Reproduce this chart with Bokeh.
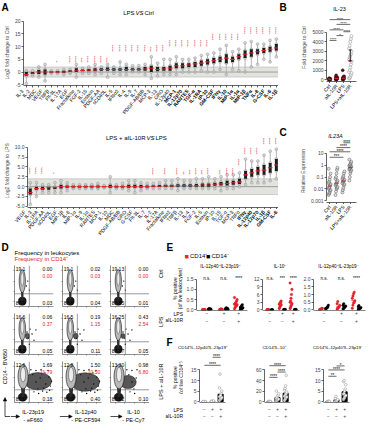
import math
import numpy as np
from bokeh.plotting import figure
from bokeh.models import (Range1d, FixedTicker, Label, BoxAnnotation, Span, Arrow,
                          NormalHead, PrintfTickFormatter, LinearAxis)
from bokeh.layouts import row, column
from bokeh.embed import file_html
from bokeh.resources import INLINE
from bokeh.core.properties import value

FONT = "Liberation Sans"
RED = "#e1232b"

# ======================= DATA =======================
# ---- Panel A (top): LPS vs Ctrl, log2 fold change
a1_names = ["IL-3", "IL-2", "MDC", "VEGF", "TNFβ", "Flt-3L", "IL-17A", "EGF", "Fractalkine", "FGF-2",
            "IL-15", "Eotaxin", "PDGF-AA", "sCD40L", "IL-5", "IFNα2", "IL-4", "IL-9", "IL-7", "PDGF-AB/BB",
            "MCP-3", "IL-13", "GRO", "IL-12p40", "MCP-1", "IL-12p70", "RANTES", "TGF-α", "IL-1RA", "IP-10",
            "GM-CSF", "IFNγ", "IL-10", "MIP-1α", "IL-1α", "MIP-1β", "TNFα", "IL-8", "G-CSF", "IL-6", "IL-1β"]
a1_bold = [0] * 24 + [1] * 17
a1_lo = [-4.5, -1.5, -2, -3.5, -0.5, -0.5, -1, -0.5, -2, -0.5, -0.5, -1, -0.5, -2, -0.5, -1, -1, 0, 0, -1,
         -2.5, -1.5, -1, -1, -1, 0, 0, 0, 0.5, 0, 0, 1, -1, 1, 0.5, 0, 2, 3, 5, 4, 6]
a1_q1 = [-1.5, -0.8, -0.8, -1, -0.2, -0.2, -0.3, 0, 0, 0.3, 0.3, 0.3, 0.5, 0.5, 0.5, 0.5, 0.5, 0.6, 0.6, 0.5,
         0, 0.3, 0.5, 0.5, 1.5, 1.5, 2, 2, 2.5, 3, 3.5, 4, 3.5, 4, 5, 5.5, 6, 7, 7.5, 8, 8.5]
a1_med = [-1, -0.5, 0, 0, 0, 0, 0, 0.3, 0.5, 0.6, 0.8, 0.8, 1, 1, 1, 1, 1, 1, 1, 1.2,
          1.5, 1, 1.2, 1.5, 2.5, 2.5, 2.8, 3.2, 3.5, 4, 4.5, 5, 5.5, 5, 6, 7, 7.5, 8, 8.5, 9, 9.5]
a1_q3 = [0, 0, 0.8, 1, 0.2, 0.3, 0.5, 0.7, 1.5, 1, 1.2, 1.5, 1.5, 1.8, 1.5, 1.5, 2, 1.5, 1.5, 2,
         2.5, 2, 2, 2.5, 3.5, 3.5, 3.5, 4, 4.5, 5, 5.5, 6, 7, 6, 7, 8.5, 9, 9, 9.5, 10, 11]
a1_hi = [0.5, 0.5, 2, 3, 0.5, 0.5, 1, 1, 3, 1.5, 2, 3, 2, 3, 2, 4, 3, 2.5, 2.5, 3,
         6, 3.5, 5, 5, 6, 5, 5, 5.5, 6.5, 7, 7.5, 9, 10.5, 8, 9, 11.5, 12, 11, 11, 12.5, 13]
a1_sig = ([""] * 5 + ["*", ""] + ["****"] * 2 + ["***"] + ["****"] * 3 + ["***"] + ["****"] * 6
          + ["***"] + ["****"] * 20)
a1_sig_y = ([0] * 5 + [3.8, 0] + [3.7] * 7 + [8] * 9 + [10] * 7 + [12.5] * 5 + [15] * 6)

# ---- Panel A (bottom): LPS + aIL-10R vs LPS
a2_names = ["VEGF", "IL-3", "IL-1RA", "PDGF-AA", "sCD40L", "EGF", "MIP-1β", "IL-8", "MIP-1α", "IL-9",
            "IL-1α", "RANTES", "MCP-1", "IL-10", "MDC", "PDGF-AB/BB", "GRO", "G-CSF", "Flt-3L", "IL-7",
            "IL-2", "IL-17A", "Fractalkine", "IFNα2", "TNFβ", "IL-13", "IL-4", "FGF-2", "IL-5", "Eotaxin",
            "IP-10", "IL-15", "TGF-α", "MCP-3", "TNFα", "IFNγ", "IL-12p40", "IL-12p70", "IL-1β", "GM-CSF", "IL-6"]
a2_bold = [0] * 35 + [1] * 6
a2_lo = [-4.5, -2.5, -1.5, -1.5, -1.5, -1.5, -1, -0.5, -0.5, -0.5, -0.5, -0.5, -0.3, -1.5, -0.5, -0.5, -1, -1.5, -1, -0.5,
         -0.5, -0.5, -0.5, -0.5, -1, -0.5, -0.5, -0.5, -0.5, -0.5, -0.5, -1, -0.5, -0.5, 0, 0.5, 1, 1, 1, 1.5, 2]
a2_q1 = [-2, -0.8, -0.8, -0.8, -0.6, -0.5, -0.3, -0.2, -0.2, -0.2, -0.2, -0.2, -0.1, -0.3, -0.2, -0.2, -0.3, -0.3, -0.3, -0.2,
         -0.1, -0.1, 0, 0, 0, 0, 0, 0, 0, 0, 0.2, 0.3, 0.3, 0.5, 0.7, 2, 2.5, 3, 3, 3.5, 4]
a2_med = [-1.5, -0.5, -0.5, -0.3, -0.3, 0, 0, 0, 0, 0, 0, 0, 0, 0, 0, 0, 0, 0, 0, 0,
          0.1, 0.1, 0.2, 0.2, 0.3, 0.3, 0.3, 0.3, 0.4, 0.4, 0.6, 0.7, 0.8, 1, 1.2, 3, 3.5, 4, 4.2, 4.8, 5.5]
a2_q3 = [-0.5, 0, 0, 0, 0, 0.5, 0.3, 0.2, 0.2, 0.2, 0.2, 0.3, 0.1, 0.5, 0.2, 0.2, 0.5, 0.5, 0.4, 0.3,
         0.3, 0.4, 0.5, 0.5, 0.6, 0.6, 0.6, 0.7, 0.8, 0.8, 1, 1.2, 1.5, 1.5, 2, 4, 4.5, 5, 5.5, 6, 7]
a2_hi = [1, 1, 0.5, 0.5, 1, 1.5, 1, 0.5, 0.5, 0.5, 0.5, 0.8, 0.3, 2.5, 0.5, 0.8, 1.5, 1.5, 1, 0.8,
         0.8, 1, 1.5, 1.5, 2, 1.5, 1.5, 2, 2, 2.5, 2, 2.5, 3, 3, 3.5, 7, 6.5, 6.5, 8, 9, 9.5]
a2_sig = (["****", "****", "****", "", "*"] + [""] * 15
          + ["****", "", "****", "", "****", "**", "***", "****", "***", "****", "", "***", "****", "****",
             "****", "****", "****", "****", "****", "****", "****"])
a2_sig_y = [3.2, 3.2, 3.2, 0, 3.2] + [0] * 15 + [3.0] * 14 + [5.3] + [8.2] * 3 + [10.7] * 3

# ---- Panel B: IL-23 protein, fold change to Ctrl
b_groups = ["Ctrl", "aIL-10R", "LPS", "LPS+aIL-10R"]
b_ctrl = [0, 5, 10, 15, 20, 30, 40, 60, 80, 100, 120, 150]
b_ail = [10, 20, 40, 60, 80, 100, 130, 160, 200, 250, 300, 450]
b_lps = [20, 40, 60, 90, 120, 150, 200, 250, 300, 350, 1000]
b_lpsail = [100, 200, 300, 500, 700, 800, 1000, 1300, 1600, 1900, 2100, 2300, 2500, 2700,
            3000, 3300, 3600, 4000, 4300, 4600]
b_err = [1960, 3140]
b_sig = [(0, 3, 6350, "****"), (1, 3, 5850, "****"), (0, 2, 5270, "****"), (2, 3, 5070, "****"),
         (1, 2, 4660, "*"), (0, 1, 4150, "****")]

# ---- Panel C: IL23A relative expression
c_ctrl = [0.003, 0.004, 0.005, 0.007, 0.008, 0.01, 0.012, 0.015, 0.02, 0.025, 0.03, 0.04, 0.06, 0.1, 0.2, 0.5]
c_ail = [0.003, 0.006, 0.01, 0.012, 0.015, 0.02, 0.025, 0.03, 0.04, 0.05, 0.07, 0.1, 0.2, 0.4, 0.6]
c_lps = [0.005, 0.008, 0.012, 0.02, 0.025, 0.03, 0.04, 0.045, 0.05, 0.06, 0.07, 0.09, 0.12, 0.2, 0.3]
c_lpsail = [0.05, 0.1, 0.2, 0.3, 0.4, 0.45, 0.5, 0.6, 0.7, 0.8, 0.9, 1.0, 1.2, 1.5, 2, 3]
c_sig = [(0, 2, 4.7, "***"), (0, 3, 13.7, "****"), (1, 3, 31, "****"), (2, 3, 79, "****")]

# ---- Panel D: flow cytometry quadrant frequencies
d_rows = ["Ctrl", "LPS", "LPS + aIL-10R"]
d_cols = [("IL-23p19", "- eF660"), ("IL-12p40", "- PE-CF594"), ("IL-10", "- PE-Cy7")]
d_tl = [["19.1", "19.1", "19.13"], ["16.6", "16.5", "16.25"], ["12.6", "12.8", "13.30"]]
d_tr = [["0.00", "0.02", "0.00"], ["0.06", "0.19", "0.43"], ["1.69", "1.50", "0.98"]]
d_tr_cd14 = [["0.00", "0.03", "0.00"], ["0.37", "1.15", "2.54"], ["11.79", "10.50", "6.80"]]
d_bl = [["80.9", "80.8", "80.85"], ["83.3", "83.2", "83.27"], ["85.6", "85.3", "85.62"]]
d_br = [["0.03", "0.04", "0.01"], ["0.05", "0.11", "0.05"], ["0.18", "0.40", "0.10"]]
d_gate = [0.38, 0.31]
d_pos_x = [0.2, 0.2, 0.22]
d_pos_y = [0.62, 0.62, 0.63]
d_pos_w = [0.16, 0.17, 0.26]
d_pos_h = [0.56, 0.56, 0.6]
d_neg_x = [0.2, 0.2, 0.21]
d_neg_y = [0.13, 0.13, 0.13]
d_neg_w = [0.2, 0.2, 0.23]
d_neg_h = [0.2, 0.2, 0.2]
d_cloud_x = [[0, 0, 0], [0.33, 0.34, 0.32], [0.6, 0.58, 0.45]]
d_cloud_y = [[0, 0, 0], [0.45, 0.45, 0.45], [0.52, 0.5, 0.5]]
d_cloud_w = [[0, 0, 0], [0.1, 0.12, 0.1], [0.7, 0.74, 0.42]]
d_cloud_h = [[0, 0, 0], [0.14, 0.14, 0.12], [0.42, 0.45, 0.32]]
d_dot_x = [[0.3, 0.34, 0.38],
           [0.32, 0.36, 0.4, 0.45, 0.5, 0.38, 0.55],
           [0.42, 0.5, 0.55, 0.62, 0.68, 0.72, 0.78, 0.83, 0.88, 0.92, 0.95, 0.47, 0.6, 0.75, 0.86, 0.66, 0.9, 0.55, 0.8, 0.7]]
d_dot_y = [[0.5, 0.62, 0.4],
           [0.55, 0.4, 0.62, 0.5, 0.35, 0.25, 0.6],
           [0.8, 0.26, 0.78, 0.22, 0.8, 0.28, 0.72, 0.25, 0.62, 0.4, 0.52, 0.68, 0.33, 0.35, 0.78, 0.6, 0.3, 0.5, 0.45, 0.7]]

# ---- Panel E: % positive of live leukocytes (CD14+ red, CD14- black; Ctrl, LPS, LPS+aIL-10R)
e_titles = ["IL-12p40⁺IL-23p19⁺", "IL-10⁺", "IL-12p40⁺IL-23p19⁻"]
e1_vals = [[0, 0, 0, 0.01, 0.01, 0.02, 0, 0.01], [0.01, 0.02, 0.03, 0.05, 0.02, 0.04, 0.06, 0.01],
           [0, 0.01, 0.02, 0.01, 0.03, 0, 0.02, 0.05], [0.02, 0.04, 0.06, 0.08, 0.03, 0.05, 0.1, 0.02],
           [0.05, 0.12, 0.18, 0.2, 0.25, 0.28, 0.3, 0.35, 0.42, 0.5, 0.6], [0.02, 0.05, 0.06, 0.08, 0.1, 0.12, 0.15, 0.2, 0.25]]
e2_vals = [[0, 0, 0.05, 0.1, 0.02, 0], [0, 0.02, 0.05, 0],
           [0.5, 1, 1.5, 1.8, 2, 2.2, 2.5, 2.8, 3, 3.5], [0, 0.1, 0.2, 0.05, 0.1],
           [0.5, 1, 1.5, 2, 2.5, 3, 3.5, 4.5, 6, 8, 10.5], [0, 0.1, 0.2, 0.05, 0.15]]
e3_vals = [[0, 0.02, 0.05, 0.08, 0.1, 0.03], [0.05, 0.1, 0.15, 0.2, 0.3, 0.1],
           [0.05, 0.1, 0.15, 0.2, 0.3, 0.4, 0.55], [0.05, 0.1, 0.15, 0.2, 0.25, 0.3, 0.4],
           [0.1, 0.3, 0.45, 0.5, 0.6, 0.75, 0.9, 1.05, 1.15], [0.02, 0.05, 0.1, 0.1, 0.15, 0.2, 0.28]]
e_sig = [["n.s.", "n.s.", "****"], ["n.s.", "***", "****"], ["n.s.", "n.s.", "****"]]
e_ticks = [[0, 0.5, 1.0, 1.5], [0, 3, 6, 9, 12], [0, 0.5, 1.0, 1.5, 2.0]]
lps_signs = ["−", "+", "+"]
ail_signs = ["−", "−", "+"]

# ---- Panel F: % positive of live CD14+ (Ctrl, LPS, LPS+aIL-10R)
f_titles = ["CD14⁺IL-12p40⁺IL-23p19⁺", "CD14⁺IL-10⁺", "CD14⁺IL-12p40⁺IL-23p19⁻"]
f1_vals = [[0, 0, 0, 0, 0, 0], [0, 0.1, 0.2, 0, 0.3, 0.1], [0.5, 1, 1.2, 1.5, 2, 2.2, 2.5, 3, 4, 5, 6.5, 13]]
f2_vals = [[0, 0.2, 0.5, 0, 0.3], [1, 2, 3, 4, 5, 6, 8, 10, 12, 15, 20],
           [2, 4, 6, 8, 9, 10, 12, 14, 15, 18, 22, 25, 30, 50]]
f3_vals = [[0, 0, 0.1, 0.2, 0], [0, 0.2, 0.3, 0.5, 1, 1.5, 2.5], [1, 1.5, 2, 2.5, 3, 3.5, 4, 5, 6, 8, 9.5, 10]]
f_sig = [[(0, 2, 17.2, "****"), (1, 2, 21, "****")],
         [(0, 1, 46, "****"), (1, 2, 56, "****"), (0, 2, 68, "****")],
         [(0, 1, 12, "**"), (0, 2, 15, "****"), (1, 2, 16.9, "*")]]
f_ticks = [[0, 5, 10, 15], [0, 20, 40, 60], [0, 5, 10, 15]]


# ======================= HELPERS =======================
def fig(w, h, l, r, t, b, xr, yr, ytype="linear", axes=True):
    kw = {} if axes else dict(x_axis_location=None, y_axis_location=None)
    p = figure(width=w, height=h, x_range=Range1d(*xr), y_range=Range1d(*yr), y_axis_type=ytype,
               output_backend="svg", toolbar_location=None, title=None,
               min_border_left=l, min_border_right=r, min_border_top=t, min_border_bottom=b, **kw)
    if "frame_align" in p.properties():
        p.frame_align = False
    p.outline_line_color = None
    p.grid.visible = False
    p.border_fill_color = "white"
    p.background_fill_color = "white"
    return p


def tfig(w, h):
    return fig(w, h, 0, 0, 0, 0, (0, 1), (0, 1), axes=False)


def style_axis(ax, fs="5px", tick=2):
    ax.major_label_text_font = FONT
    ax.major_label_text_font_size = fs
    ax.axis_label_text_font = FONT
    ax.axis_label_text_font_size = fs
    ax.axis_label_text_font_style = "normal"
    ax.major_tick_in = 0
    ax.major_tick_out = tick
    ax.minor_tick_line_color = None
    ax.axis_line_width = 0.7
    ax.major_tick_line_width = 0.7
    ax.axis_line_color = "#222222"
    ax.major_tick_line_color = "#222222"
    ax.major_label_standoff = 1
    ax.axis_label_standoff = 2


def hide_labels(ax):
    ax.major_label_text_font_size = "1px"
    ax.major_label_text_color = None
    ax.major_label_standoff = 0


def lab(p, x, y, text, size="5px", color="black", align="left", base="middle",
        angle=0.0, style="normal", xdata=False, ydata=False, yoff=0):
    fl = p.min_border_left
    fy = p.height - p.min_border_bottom
    p.add_layout(Label(x=x if xdata else x - fl, y=y if ydata else fy - y,
                       x_units="data" if xdata else "screen", y_units="data" if ydata else "screen",
                       y_offset=yoff, text=text, text_font=FONT, text_font_size=size, text_color=color,
                       text_align=align, text_baseline=base, angle=angle, text_font_style=style))


def arrow(p, x0, y0, x1, y1, head=True):
    fy = p.height
    end = NormalHead(size=3.5, line_color="black", line_width=0.5, fill_color="black") if head else None
    p.add_layout(Arrow(end=end, x_start=x0, y_start=fy - y0, x_end=x1, y_end=fy - y1,
                       start_units="screen", end_units="screen", line_color="black", line_width=0.7))


def jitter(n, step):
    return [((k % 5) - 2) * step for k in range(n)]


def sig_marks(p, xs, sig, size="4.5px"):
    p.segment(x0=[xs[s[0]] for s in sig], y0=[s[2] for s in sig],
              x1=[xs[s[1]] for s in sig], y1=[s[2] for s in sig], line_color="black", line_width=0.6)
    for i, j, lv, t in sig:
        lab(p, (xs[i] + xs[j]) / 2, lv, t, size=size, align="center", base="middle",
            xdata=True, ydata=True, yoff=0.6)


def letter(p, x, y, t):
    lab(p, x, y, t, size="10px", style="bold")


def title3(p, cx, y, left, right):
    lab(p, cx - 5, y, left, size="6px", align="right")
    lab(p, cx, y, "VS", size="6px", align="center", style="italic")
    lab(p, cx + 5, y, right, size="6px", align="left")


def names_fig(w, h, l, r, xr, xs, names, bold=None, size="5px"):
    # text strip under a plot; its x scale matches the plot frame above it
    u = (xr[1] - xr[0]) / (w - l - r)
    p = fig(w, h, 0, 0, 0, 0, (xr[0] - l * u, xr[1] + r * u), (h, 0), axes=False)
    bold = bold if bold is not None else [0] * len(names)
    for flag, style in ((0, "normal"), (1, "bold")):
        sel = [k for k in range(len(names)) if bold[k] == flag]
        if sel:
            p.text(x=[xs[k] for k in sel], y=[1.5] * len(sel), text=[names[k] for k in sel],
                   angle=0.87, text_align="right", text_baseline="middle", text_font=value(FONT),
                   text_font_size=value(size), text_font_style=style, text_color="black")
    return p


def tick_axis(ax, xs):
    style_axis(ax)
    ax.ticker = FixedTicker(ticks=xs)
    hide_labels(ax)


def sign_axes(p, xs, s1, s2):
    xa = p.xaxis[0]
    style_axis(xa, tick=0)
    xa.ticker = FixedTicker(ticks=xs)
    xa.major_label_overrides = {x: s for x, s in zip(xs, lps_signs)}
    xa.major_tick_line_color = None
    xa.major_label_standoff = s1
    xa.axis_line_color = "#555555"
    ax2 = LinearAxis(ticker=FixedTicker(ticks=xs), major_label_overrides={x: s for x, s in zip(xs, ail_signs)})
    style_axis(ax2, tick=0)
    ax2.axis_line_color = None
    ax2.major_tick_line_color = None
    ax2.major_label_standoff = s2
    p.add_layout(ax2, "below")


# ======================= PANEL A =======================
def build_a(w, h, l, r, t, b, xr, yr, lo, q1, med, q3, hi, sig, sig_y, yticks, yfmt, ylab):
    n = len(lo)
    xs = list(range(1, n + 1))
    p = fig(w, h, l, r, t, b, xr, yr)
    p.add_layout(BoxAnnotation(bottom=-2, top=2, fill_color="#cacac2", fill_alpha=0.55,
                               line_color="#5a5a5a", line_width=0.8, level="underlay"))
    p.add_layout(Span(location=0, dimension="width", line_color="#808080", line_width=0.7, level="underlay"))
    p.segment(x0=xs, y0=lo, x1=xs, y1=hi, line_color="#b4b4b4", line_width=1.0)
    p.scatter(x=xs * 4, y=lo + q1 + q3 + hi, size=2.8, marker="circle", fill_color="#cfcfcf",
              fill_alpha=0.7, line_color="#8f8f8f", line_width=0.5)
    p.segment(x0=xs, y0=q1, x1=xs, y1=q3, line_color="#1c1c1c", line_width=3.0)
    p.segment(x0=[x - 0.38 for x in xs], y0=med, x1=[x + 0.38 for x in xs], y1=med,
              line_color=RED, line_width=1.1)
    keep = [k for k in range(n) if sig[k]]
    p.text(x=[xs[k] for k in keep], y=[sig_y[k] for k in keep], text=[sig[k] for k in keep],
           angle=math.pi / 2, text_color=RED, text_font=value(FONT), text_font_size=value("4.4px"),
           text_align="left", text_baseline="middle")
    tick_axis(p.xaxis[0], xs)
    ya = p.yaxis[0]
    style_axis(ya)
    ya.ticker = FixedTicker(ticks=yticks)
    ya.formatter = PrintfTickFormatter(format=yfmt)
    ya.bounds = (yticks[0], yticks[-1])
    ya.axis_label = ylab
    return p, xs


A_XR = (0.55, 41.35)
A1top = tfig(278, 17)
letter(A1top, 1, 6.5, "A")
title3(A1top, 139, 12.5, "LPS", "Ctrl")
A1, a1_x = build_a(278, 71, 19, 0, 3, 3, A_XR, (-5.3, 20.3), a1_lo, a1_q1, a1_med, a1_q3, a1_hi,
                   a1_sig, a1_sig_y, [-5, 0, 5, 10, 15, 20], "%d", "Log2 fold change to Ctrl")
A1n = names_fig(278, 37, 19, 0, A_XR, a1_x, a1_names, a1_bold)
A2, a2_x = build_a(278, 84, 21, 0, 8, 2, A_XR, (-5.3, 13.5), a2_lo, a2_q1, a2_med, a2_q3, a2_hi,
                   a2_sig, a2_sig_y, [-5, -2.5, 0, 2.5, 5, 7.5, 10], "%.1f", "Log2 fold change to LPS")
title3(A2, 144, 12.8, "LPS + aIL-10R", "LPS")
A2n = names_fig(278, 32, 21, 0, A_XR, a2_x, a2_names, a2_bold)

# ======================= PANEL B =======================
BC_XR = (-0.45, 3.9)
g_x = [0, 1, 2, 3]
Btop = tfig(89, 13)
letter(Btop, 1, 6.5, "B")
lab(Btop, 61, 8.5, "IL-23", size="5.5px", align="center")
B = fig(89, 70, 48, 11, 0, 2, BC_XR, (-200, 7000))
b_vals = [b_ctrl, b_ail, b_lps, b_lpsail]
for gi, v in enumerate(b_vals):
    xs = [gi + o for o in jitter(len(v), 0.09 if gi == 3 else 0.05)]
    if gi < 3:
        B.scatter(x=xs, y=v, size=3, marker="circle", fill_color="#5a1414", line_color="#2a0a0a", line_width=0.4)
    else:
        B.scatter(x=xs, y=v, size=3, marker="circle", fill_color="white", fill_alpha=0.6,
                  line_color="#9a9a9a", line_width=0.6)
    md = float(np.median(v))
    B.segment(x0=[gi - 0.3], y0=[md], x1=[gi + 0.3], y1=[md], line_color=RED, line_width=1.0)
B.segment(x0=[3], y0=[b_err[0]], x1=[3], y1=[b_err[1]], line_color="black", line_width=0.8)
B.segment(x0=[2.8, 2.8], y0=b_err, x1=[3.2, 3.2], y1=b_err, line_color="black", line_width=0.8)
sig_marks(B, g_x, b_sig, size="4.2px")
tick_axis(B.xaxis[0], g_x)
style_axis(B.yaxis[0])
B.yaxis[0].ticker = FixedTicker(ticks=[0, 1000, 2000, 3000, 4000, 5000])
B.yaxis[0].formatter = PrintfTickFormatter(format="%d")
B.yaxis[0].bounds = (0, 5000)
B.yaxis[0].axis_label = "Fold change to Ctrl"
Bn = names_fig(89, 42, 48, 11, BC_XR, g_x, b_groups)

# ======================= PANEL C =======================
Ctop = tfig(89, 14)
letter(Ctop, 1, 6.5, "C")
lab(Ctop, 57, 10.5, "IL23A", size="5.5px", align="center", style="italic")
C = fig(89, 65, 48, 11, 0, 2, BC_XR, (0.0007, 150), ytype="log")
c_vals = [c_ctrl, c_ail, c_lps, c_lpsail]
for gi, v in enumerate(c_vals):
    xs = [gi + o for o in jitter(len(v), 0.07)]
    C.scatter(x=xs, y=v, size=3, marker="circle", fill_color="#cfcfcf", fill_alpha=0.6,
              line_color="#555555", line_width=0.5)
    md = float(np.median(v))
    C.segment(x0=[gi - 0.3], y0=[md], x1=[gi + 0.3], y1=[md], line_color=RED, line_width=1.0)
sig_marks(C, g_x, c_sig)
tick_axis(C.xaxis[0], g_x)
style_axis(C.yaxis[0])
C.yaxis[0].ticker = FixedTicker(ticks=[0.001, 0.01, 0.1, 1, 10])
C.yaxis[0].formatter = PrintfTickFormatter(format="%g")
C.yaxis[0].bounds = (0.001, 10)
C.yaxis[0].axis_label = "Relative Expression"
Cn = names_fig(89, 37, 48, 11, BC_XR, g_x, b_groups)


# ======================= PANEL D =======================
def flow_cell(ri, ci):
    w = 43 if ci == 2 else 48
    r = 0 if ci == 2 else 5
    p = fig(w, 48, 4, r, 3, 4, (0, 1), (0, 1))
    if d_cloud_w[ri][ci] > 0:
        p.ellipse(x=[d_cloud_x[ri][ci]], y=[d_cloud_y[ri][ci]], width=[d_cloud_w[ri][ci]],
                  height=[d_cloud_h[ri][ci]], fill_color="#3a3a3a", fill_alpha=0.85,
                  line_color="#111111", line_width=0.5)
    dx = [x for x in d_dot_x[ri] if ci < 2 or x < 0.7]
    dy = [y for x, y in zip(d_dot_x[ri], d_dot_y[ri]) if ci < 2 or x < 0.7]
    p.scatter(x=dx, y=dy, size=1.4, marker="circle", fill_color="black", line_color=None)
    p.ellipse(x=[d_neg_x[ri]], y=[d_neg_y[ri]], width=[d_neg_w[ri]], height=[d_neg_h[ri]],
              fill_color="#1c1c1c", line_color="black", line_width=0.5)
    p.ellipse(x=[d_pos_x[ri]], y=[(d_neg_y[ri] + d_pos_y[ri]) / 2], width=[d_pos_w[ri] * 0.4],
              height=[d_pos_y[ri] - d_neg_y[ri]], fill_color="#2a2a2a", line_color=None)
    p.ellipse(x=[d_pos_x[ri]], y=[d_pos_y[ri]], width=[d_pos_w[ri]], height=[d_pos_h[ri]],
              fill_color="#b8b8b8", line_color="#111111", line_width=0.6)
    p.ellipse(x=[d_pos_x[ri]], y=[d_pos_y[ri] + 0.05], width=[d_pos_w[ri] * 0.5],
              height=[d_pos_h[ri] * 0.6], fill_color="#eeeeee", line_color="#444444", line_width=0.5)
    p.add_layout(Span(location=d_gate[0], dimension="height", line_color="#555555", line_width=0.6))
    p.add_layout(Span(location=d_gate[1], dimension="width", line_color="#555555", line_width=0.6))
    tk = dict(text_font=value(FONT), text_font_size=value("5px"))
    p.text(x=[0.03], y=[0.97], text=[d_tl[ri][ci]], text_align="left", text_baseline="top", text_color="black", **tk)
    p.text(x=[0.97, 0.97], y=[0.97, 0.79], text=[d_tr[ri][ci], d_tr_cd14[ri][ci]],
           text_align="right", text_baseline="top", text_color=["black", RED], **tk)
    p.text(x=[0.03], y=[0.03], text=[d_bl[ri][ci]], text_align="left", text_baseline="bottom", text_color="black", **tk)
    p.text(x=[0.97], y=[0.03], text=[d_br[ri][ci]], text_align="right", text_baseline="bottom", text_color="black", **tk)
    for ax in (p.xaxis[0], p.yaxis[0]):
        style_axis(ax, tick=1)
        ax.ticker = FixedTicker(ticks=[0.12, 0.37, 0.62, 0.87])
        hide_labels(ax)
        ax.axis_line_width = 0.5
        ax.major_tick_line_width = 0.5
    return p


Dhead = tfig(165, 21)
letter(Dhead, 1, 6, "D")
lab(Dhead, 14, 11.5, "Frequency in  leukocytes", size="6px")
lab(Dhead, 14, 17.5, "Frequency in CD14⁺", size="6px", color=RED)

Dstrip = tfig(10, 162)
lab(Dstrip, 4.5, 104, "CD14 - BV650", size="5.5px", align="center", angle=math.pi / 2)
arrow(Dstrip, 4.5, 154, 4.5, 135)
arrow(Dstrip, 4.5, 154, 10.5, 154, head=False)

Drstrip = tfig(16, 144)
for name, yy in zip(d_rows, [7, 54, 101]):
    lab(Drstrip, 11, yy, name, size="5.5px", align="right", angle=math.pi / 2)

Dxlab = tfig(155, 18)
for (t1, t2), cx, ax0, ax1 in zip(d_cols, [22.6, 75.3, 123], [0, 49.4, 100], [9.2, 61.8, 111.7]):
    lab(Dxlab, cx, 5.6, t1, size="5.5px", align="center")
    lab(Dxlab, cx, 13.8, t2, size="5.5px", align="center")
    arrow(Dxlab, ax0, 10, ax1, 10)

cells = column([row([flow_cell(ri, ci) for ci in range(3)]) for ri in range(3)])
D = column(Dhead, row(Dstrip, column(row(cells, Drstrip), Dxlab)))

# ======================= PANEL E =======================
e_x = [0, 0.55, 1.6, 2.15, 3.0, 3.55]
e_pair = [0.275, 1.875, 3.275]
e_all = [e1_vals, e2_vals, e3_vals]


def e_panel(k, w, l, r):
    top = e_ticks[k][-1]
    span = top - e_ticks[k][0]
    p = fig(w, 64, l, r, 4, 25, (-0.7, 4.1), (-0.02 * span, top + 0.12 * span))
    for gi, v in enumerate(e_all[k]):
        col = RED if gi % 2 == 0 else "black"
        xs = [e_x[gi] + o for o in jitter(len(v), 0.06)]
        p.scatter(x=xs, y=v, size=2.6, marker="circle", fill_color=col, line_color=col, line_width=0.3)
        md = float(np.median(v))
        p.segment(x0=[e_x[gi] - 0.2], y0=[md], x1=[e_x[gi] + 0.2], y1=[md], line_color=col, line_width=0.8)
    for xc, t in zip(e_pair, e_sig[k]):
        lab(p, xc, top, t, size="4.5px", align="center", base="middle", xdata=True, ydata=True, yoff=0.5)
    sign_axes(p, e_pair, 0, 1)
    ya = p.yaxis[0]
    style_axis(ya)
    ya.ticker = FixedTicker(ticks=e_ticks[k])
    ya.formatter = PrintfTickFormatter(format="%d" if k == 1 else "%.1f")
    ya.bounds = (e_ticks[k][0], top)
    return p


Eleft = tfig(18, 94)
letter(Eleft, 1, 6, "E")
lab(Eleft, 9, 47, "% positive", size="5px", align="center", angle=math.pi / 2)
lab(Eleft, 14.5, 47, "(of live leukocytes)", size="5px", align="center", angle=math.pi / 2)
lab(Eleft, 17.5, 72.3, "LPS", size="5px", align="right")
lab(Eleft, 17.5, 78.6, "aIL-10R", size="5px", align="right")

Etop = tfig(184, 30)
lab(Etop, 3, 14.5, "■", size="7px", color=RED, align="center")
lab(Etop, 6.5, 14.5, "CD14⁺", size="6px")
lab(Etop, 24.5, 14.5, "■", size="7px", color="black", align="center")
lab(Etop, 28, 14.5, "CD14⁻", size="6px")
for t, cx in zip(e_titles, [37, 96.5, 155]):
    lab(Etop, cx, 25, t, size="4.6px", align="center")

E1 = e_panel(0, 67, 10, 3)
E2 = e_panel(1, 50, 10, 1)
E3 = e_panel(2, 67, 11, 2)
E = row(Eleft, column(Etop, row(E1, E2, E3)))

# ======================= PANEL F =======================
f_all = [f1_vals, f2_vals, f3_vals]


def f_panel(k, w, l, r):
    top = f_ticks[k][-1]
    p = fig(w, 74, l, r, 2, 22, (-0.6, 2.6), (-0.027 * top, top * 1.55))
    means = [float(np.mean(v)) for v in f_all[k]]
    p.vbar(x=[0, 1, 2], top=means, bottom=0, width=0.62, fill_color="black", line_color="black")
    for gi, v in enumerate(f_all[k]):
        xs = [gi + o for o in jitter(len(v), 0.07)]
        p.scatter(x=xs, y=v, size=2.6, marker="circle", fill_color="white", line_color="#8a8a8a", line_width=0.5)
    sig_marks(p, [0, 1, 2], f_sig[k])
    sign_axes(p, [0, 1, 2], 4, 0)
    ya = p.yaxis[0]
    style_axis(ya)
    ya.ticker = FixedTicker(ticks=f_ticks[k])
    ya.formatter = PrintfTickFormatter(format="%d")
    ya.bounds = (0, top)
    return p


Ftop = tfig(202, 15)
letter(Ftop, 1, 6.5, "F")
for t, cx in zip(f_titles, [37, 108.5, 172]):
    lab(Ftop, cx, 11.8, t, size="4.4px", align="center")

Fleft = tfig(18, 74)
lab(Fleft, 9.5, 27, "% positive", size="5px", align="center", angle=math.pi / 2)
lab(Fleft, 15, 27, "(of live CD14⁺)", size="5px", align="center", angle=math.pi / 2)
lab(Fleft, 17.5, 59, "LPS", size="5px", align="right")
lab(Fleft, 17.5, 65, "aIL-10R", size="5px", align="right")

F1 = f_panel(0, 54, 16, 12)
F2 = f_panel(1, 62, 27, 9)
F3 = f_panel(2, 68, 24, 18)
F = column(Ftop, row(Fleft, F1, F2, F3))

# ======================= LAYOUT =======================
top_row = row(column(A1top, A1, A1n, A2, A2n), column(Btop, B, Bn, Ctop, C, Cn))
bottom_row = row(D, column(E, F))
layout = column(top_row, bottom_row)

with open("out.html", "w", encoding="utf-8") as fh:
    fh.write(file_html(layout, INLINE))
